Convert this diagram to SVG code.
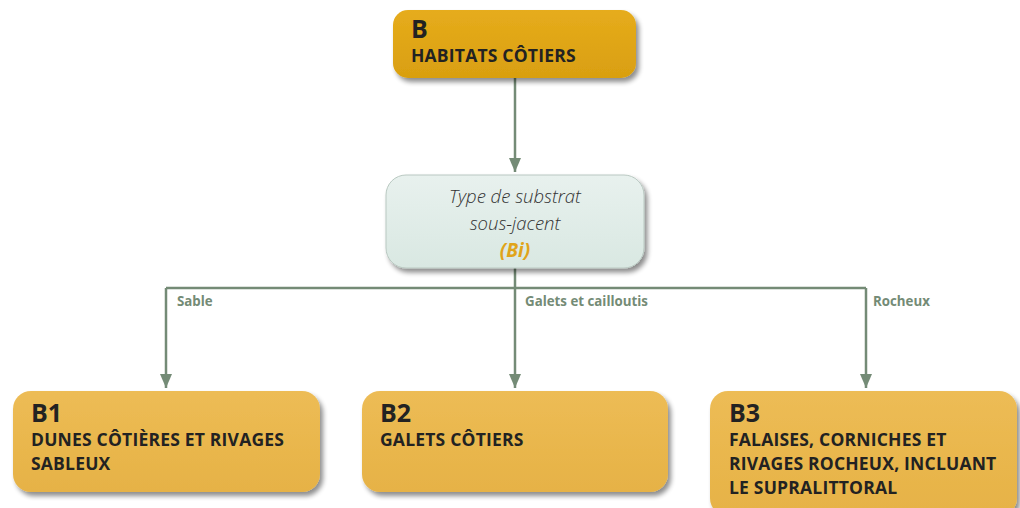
<svg xmlns="http://www.w3.org/2000/svg" width="1020" height="508" viewBox="0 0 1020 508">
<defs>
<filter id="sh" x="-10%" y="-20%" width="125%" height="150%">
<feGaussianBlur in="SourceAlpha" stdDeviation="2.5"/>
<feOffset dx="3" dy="4" result="b"/>
<feComponentTransfer><feFuncA type="linear" slope="0.45"/></feComponentTransfer>
<feMerge><feMergeNode/><feMergeNode in="SourceGraphic"/></feMerge>
</filter>
<linearGradient id="gTop" x1="0" y1="0" x2="0" y2="1">
<stop offset="0" stop-color="#E6AC1C"/><stop offset="1" stop-color="#D99F10"/>
</linearGradient>
<linearGradient id="gBot" x1="0" y1="0" x2="0" y2="1">
<stop offset="0" stop-color="#EDBC55"/><stop offset="1" stop-color="#E6B246"/>
</linearGradient>
<linearGradient id="gMid" x1="0" y1="0" x2="0" y2="1">
<stop offset="0" stop-color="#E8F1EE"/><stop offset="1" stop-color="#D9E8E2"/>
</linearGradient>
<marker id="arrL" viewBox="0 0 14 12" refX="14" refY="6" markerWidth="14" markerHeight="12" markerUnits="userSpaceOnUse" orient="auto">
<path d="M0,0 L14,6 L0,12 z" fill="#748B76"/>
</marker>
</defs>
<style>
.t{font-family:"Open Sans","Liberation Sans",sans-serif;font-weight:bold;fill:#222;}
.code{font-size:25px;}
.lbl{font-size:17.5px;letter-spacing:0.2px;}
.edge{font-family:"Open Sans","Liberation Sans",sans-serif;font-weight:bold;font-size:13.3px;fill:#748B76;}
.mid{font-family:"Open Sans","Liberation Sans",sans-serif;font-style:italic;font-weight:300;font-size:18.5px;fill:#333;}
.ln{stroke:#748B76;stroke-width:2.5;fill:none;}
</style>
<rect width="1020" height="508" fill="#ffffff"/>
<g id="connectors">
<path class="ln" d="M515,78 V172" marker-end="url(#arrL)"/>
<path class="ln" d="M515,268 V288 M166,288 H866"/>
<path class="ln" d="M166,288 V388" marker-end="url(#arrL)"/>
<path class="ln" d="M515,288 V388" marker-end="url(#arrL)"/>
<path class="ln" d="M866,288 V388" marker-end="url(#arrL)"/>
<text class="edge" x="177" y="306">Sable</text>
<text class="edge" x="525" y="306">Galets et cailloutis</text>
<text class="edge" x="873" y="306">Rocheux</text>
</g>
<g id="node-B">
<rect x="393" y="10" width="243" height="68" rx="15" fill="url(#gTop)" filter="url(#sh)"/>
<text class="t code" x="411" y="38">B</text>
<text class="t lbl" x="411" y="62">HABITATS CÔTIERS</text>
</g>
<g id="node-Bi">
<rect x="386" y="175" width="258" height="93" rx="20" fill="url(#gMid)" stroke="#B9C8C1" stroke-width="1" filter="url(#sh)"/>
<text class="mid" x="515" y="203" text-anchor="middle">Type de substrat</text>
<text class="mid" x="515" y="230" text-anchor="middle">sous-jacent</text>
<text class="mid" x="515" y="257" text-anchor="middle" style="font-weight:bold;fill:#E0A41A;font-size:19px">(Bi)</text>
</g>
<g id="node-B1">
<rect x="13" y="391" width="307" height="101" rx="18" fill="url(#gBot)" filter="url(#sh)"/>
<text class="t code" x="31" y="422">B1</text>
<text class="t lbl" x="31" y="446">DUNES CÔTIÈRES ET RIVAGES</text>
<text class="t lbl" x="31" y="470">SABLEUX</text>
</g>
<g id="node-B2">
<rect x="362" y="391" width="306" height="101" rx="18" fill="url(#gBot)" filter="url(#sh)"/>
<text class="t code" x="380" y="422">B2</text>
<text class="t lbl" x="380" y="446">GALETS CÔTIERS</text>
</g>
<g id="node-B3">
<rect x="710" y="391" width="307" height="125" rx="18" fill="url(#gBot)" filter="url(#sh)"/>
<text class="t code" x="729" y="422">B3</text>
<text class="t lbl" x="729" y="446">FALAISES, CORNICHES ET</text>
<text class="t lbl" x="729" y="470">RIVAGES ROCHEUX, INCLUANT</text>
<text class="t lbl" x="729" y="494">LE SUPRALITTORAL</text>
</g>
</svg>
